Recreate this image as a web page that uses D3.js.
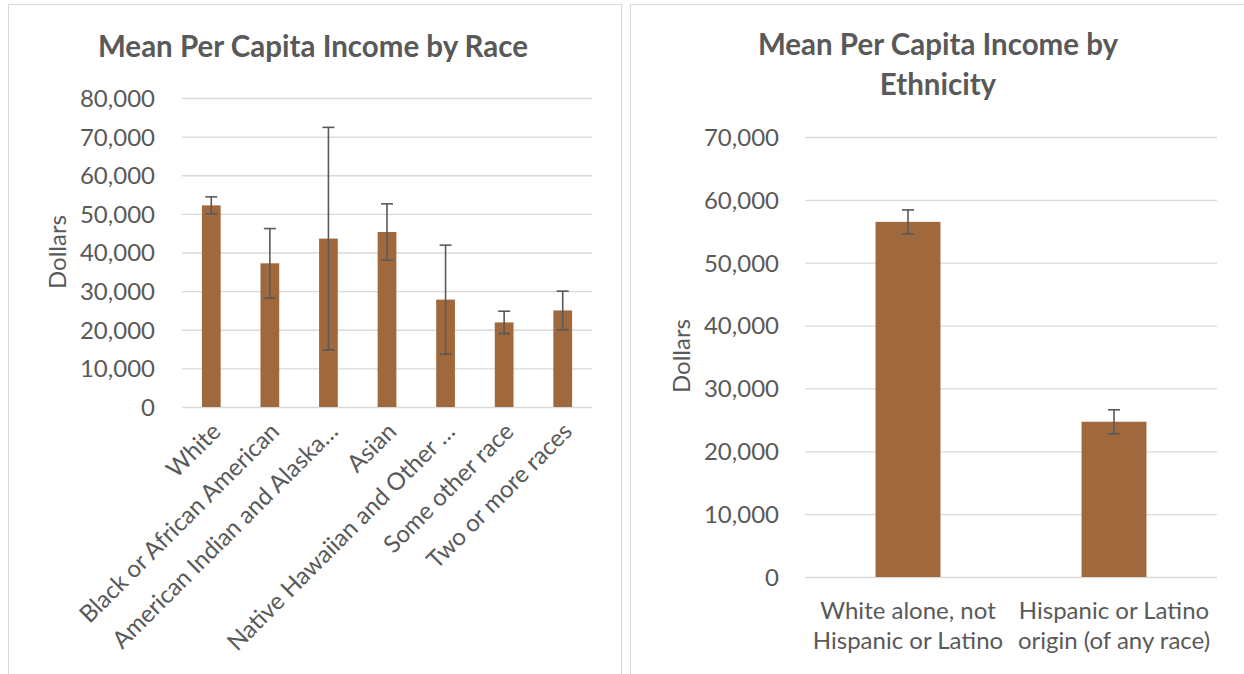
<!DOCTYPE html>
<html><head><meta charset="utf-8">
<script src="https://cdn.jsdelivr.net/npm/d3@7"></script>
<style>body{margin:0;background:#fff}svg{display:block}text{font-family:Lato,"Open Sans",sans-serif;fill:#595959}</style>
</head><body>
<svg id="c" width="1244" height="674"></svg>
<script>
// ---- data ----
const raceCategories = ["White","Black or African American","American Indian and Alaska…","Asian","Native Hawaiian and Other …","Some other race","Two or more races"];
const raceValues = [52200, 37200, 43600, 45300, 27800, 21900, 25000];
const raceErrors = [2200, 9000, 28800, 7300, 14100, 2900, 5000];
const raceTicks = [0,10000,20000,30000,40000,50000,60000,70000,80000];

const ethCategories = [["White alone, not","Hispanic or Latino"],["Hispanic or Latino","origin (of any race)"]];
const ethValues = [56500, 24700];
const ethErrors = [1900, 1900];
const ethTicks = [0,10000,20000,30000,40000,50000,60000,70000];

const svg = d3.select("#c");
const fmt = d3.format(",");
const BAR = "#A0693D", GRID = "#d9d9d9", TXT = "#595959";
const FS = 24, TFS = 29.5;

// panel borders
svg.append("rect").attr("x",8.5).attr("y",4.5).attr("width",613).attr("height",700).attr("fill","none").attr("stroke",GRID);
svg.append("rect").attr("x",630.5).attr("y",4.5).attr("width",700).attr("height",700).attr("fill","none").attr("stroke",GRID);

function drawChart(o){
  const g = svg.append("g");
  const y = d3.scaleLinear().domain([0, o.ticks[o.ticks.length-1]]).range([o.y0, o.y1]);
  const x = d3.scaleBand().domain(o.cats.map((d,i)=>i)).range([o.x0,o.x1]).paddingInner(o.pad).paddingOuter(o.pad/2);
  const ga = g.append("g").attr("transform",`translate(${o.x0},0)`)
    .call(d3.axisLeft(y).tickValues(o.ticks).tickSize(-(o.x1-o.x0)).tickFormat(""));
  ga.select(".domain").remove();
  ga.selectAll(".tick line").attr("stroke",GRID).attr("stroke-width",1.3);
  const la = g.append("g").attr("transform",`translate(${o.labelX},0)`)
    .call(d3.axisLeft(y).tickValues(o.ticks).tickSize(0).tickPadding(0).tickFormat(fmt));
  la.select(".domain").remove();
  la.selectAll("text").attr("fill",TXT).attr("dy","0.35em").style("font-size",FS+"px").style("font-family","Lato");
  g.selectAll("rect.bar").data(o.vals).join("rect").attr("class","bar")
    .attr("x",(d,i)=>x(i)).attr("width",x.bandwidth())
    .attr("y",d=>y(d)).attr("height",d=>y(0)-y(d)).attr("fill",BAR);
  const cx = i => x(i)+x.bandwidth()/2;
  const eb = g.selectAll("g.err").data(o.vals).join("g").attr("class","err");
  eb.append("line").attr("x1",(d,i)=>cx(i)).attr("x2",(d,i)=>cx(i))
    .attr("y1",(d,i)=>y(d+o.errs[i])).attr("y2",(d,i)=>y(d-o.errs[i]));
  eb.append("line").attr("x1",(d,i)=>cx(i)-6).attr("x2",(d,i)=>cx(i)+6)
    .attr("y1",(d,i)=>y(d+o.errs[i])).attr("y2",(d,i)=>y(d+o.errs[i]));
  eb.append("line").attr("x1",(d,i)=>cx(i)-6).attr("x2",(d,i)=>cx(i)+6)
    .attr("y1",(d,i)=>y(d-o.errs[i])).attr("y2",(d,i)=>y(d-o.errs[i]));
  eb.selectAll("line").attr("stroke","#595959").attr("stroke-width",1.6);
  g.append("text").attr("transform",`translate(${o.ytX},${o.ytY}) rotate(-90)`)
    .attr("text-anchor","middle").attr("dy","0.35em").style("font-size",FS+"px").text("Dollars");
  const t = g.append("text").attr("text-anchor","middle").style("font-size",TFS+"px").style("font-weight","bold");
  o.title.forEach((s,k)=>t.append("tspan").attr("x",o.titleX).attr("y",o.titleY+k*40).text(s));
  return {x,y,g,cx};
}

const L = drawChart({cats:raceCategories, vals:raceValues, errs:raceErrors, ticks:raceTicks,
  x0:182, x1:592, y0:407, y1:98, pad:0.68, labelX:155,
  ytX:58, ytY:252, title:["Mean Per Capita Income by Race"], titleX:313, titleY:57});
L.g.selectAll("text.xl").data(raceCategories).join("text").attr("class","xl")
  .attr("transform",(d,i)=>`translate(${L.cx(i)+5},${427}) rotate(-45)`)
  .attr("text-anchor","end").attr("dy","0.35em").style("font-size",FS+"px").text(d=>d);

const R = drawChart({cats:ethCategories, vals:ethValues, errs:ethErrors, ticks:ethTicks,
  x0:805, x1:1217, y0:577, y1:137, pad:0.685, labelX:779,
  ytX:682, ytY:356, title:["Mean Per Capita Income by","Ethnicity"], titleX:938, titleY:55});
const xl = R.g.selectAll("text.xl").data(ethCategories).join("text").attr("class","xl")
  .attr("text-anchor","middle").style("font-size",FS+"px");
xl.each(function(d,i){
  const t=d3.select(this);
  d.forEach((s,k)=>t.append("tspan").attr("x",R.cx(i)).attr("y",619+k*30).text(s));
});
</script>
</body></html>
